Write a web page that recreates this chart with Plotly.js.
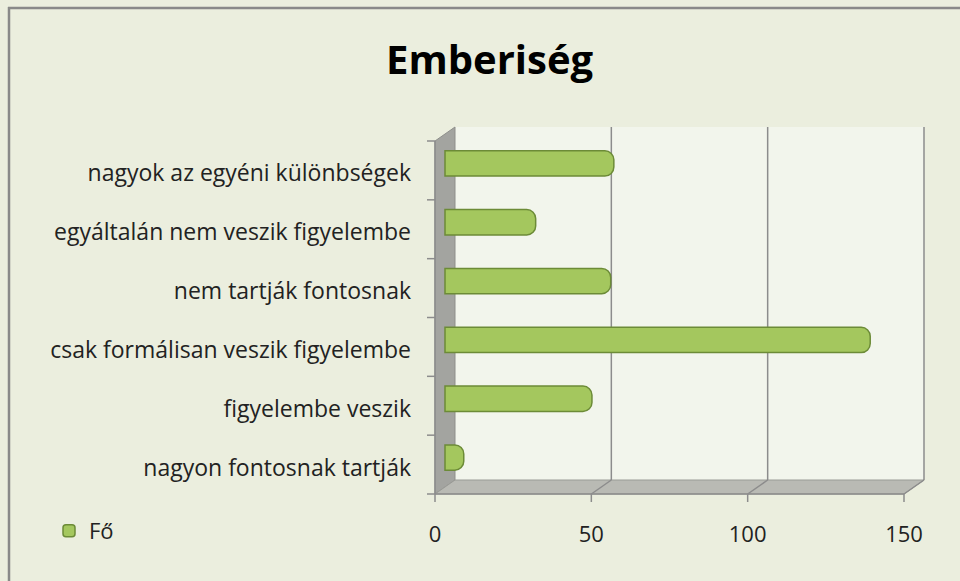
<!DOCTYPE html>
<html>
<head>
<meta charset="utf-8">
<script src="https://cdn.plot.ly/plotly-3.0.1.min.js"></script>
<style>html,body{margin:0;padding:0;background:#EBEEDE;}#chart{width:960px;height:581px;}</style>
</head>
<body>
<div id="chart"></div>
<script>
// ---- data (bottom category first) ----
const categories = [
  "nagyon fontosnak tartják",
  "figyelembe veszik",
  "csak formálisan veszik figyelembe",
  "nem tartják fontosnak",
  "egyáltalán nem veszik figyelembe",
  "nagyok az egyéni különbségek"
];
const foValues = [6, 47, 136, 53, 29, 54];
const seriesName = "Fő";
const xTickVals = [0, 50, 100, 150];
const xTickText = ["0", "50", "100", "150"];
const chartTitle = "Emberiség";

// ---- geometry ----
const W = 960, Hh = 581;
const M = {l: 440, r: 41, t: 134, b: 94};
const PW = W - M.l - M.r, PH = Hh - M.t - M.b;
const X0 = -1.6, X1 = 151.6;
const DX = 10, DYp = 7; // 3D depth offset in px
const fx = (v, dpx) => (v - X0) / (X1 - X0) + dpx / PW;
const fy = (f, dpx) => f + dpx / PH;
const pxX = px => (px - M.l) / PW;          // page px -> paper x
const pxY = py => (M.t + PH - py) / PH;     // page px -> paper y
const xMax = xTickVals[xTickVals.length - 1];
const nCat = categories.length;

const gridCol = '#8C8C8C';
const shapes = [];
const L = (x0, y0, x1, y1, w, c) => shapes.push({type: 'line', xref: 'paper', yref: 'paper', x0, y0, x1, y1, line: {color: c || gridCol, width: w || 1.5}, layer: 'below'});
const P = (pts, fill, lc) => shapes.push({type: 'path', xref: 'paper', yref: 'paper',
  path: 'M' + pts.map(p => p[0] + ',' + p[1]).join('L') + 'Z', fillcolor: fill, line: {color: lc || gridCol, width: 1}, layer: 'below'});

// back wall
P([[fx(0, DX), fy(0, DYp)], [fx(xMax, DX), fy(0, DYp)], [fx(xMax, DX), fy(1, DYp)], [fx(0, DX), fy(1, DYp)]], '#F2F5EC', 'rgba(0,0,0,0)');
// left wall
P([[fx(0, -DX), fy(0, -DYp)], [fx(0, -DX), fy(1, -DYp)], [fx(0, DX), fy(1, DYp)], [fx(0, DX), fy(0, DYp)]], '#A3A4A0', '#8E8F8B');
// floor
P([[fx(0, -DX), fy(0, -DYp)], [fx(xMax, -DX), fy(0, -DYp)], [fx(xMax, DX), fy(0, DYp)], [fx(0, DX), fy(0, DYp)]], '#B9BAB4', '#9A9B96');
// gridlines on back wall + floor diagonals
xTickVals.forEach(v => {
  if (v > 0) {
    L(fx(v, DX), fy(0, DYp), fx(v, DX), fy(1, DYp), 1.5);
    L(fx(v, -DX), fy(0, -DYp), fx(v, DX), fy(0, DYp), 1.5);
  }
  L(fx(v, -DX), fy(0, -DYp), fx(v, -DX), fy(0, -DYp - 8), 1.5);
});
// front x axis line
L(fx(0, -DX), fy(0, -DYp), fx(xMax, -DX), fy(0, -DYp), 1.5);
// front left edge + category boundary ticks
L(fx(0, -DX), fy(0, -DYp), fx(0, -DX), fy(1, -DYp), 1.5);
for (let k = 0; k <= nCat; k++) {
  L(fx(0, -DX - 8), fy(k / nCat, -DYp), fx(0, -DX), fy(k / nCat, -DYp), 1.5);
}
// outer border (top & left)
L(pxX(9), pxY(7), pxX(9), pxY(590), 2.5, '#898989');
L(pxX(8), pxY(8), pxX(970), pxY(8), 2.5, '#898989');

const trace = {
  type: 'bar', orientation: 'h', name: seriesName,
  x: foValues, y: categories,
  marker: {color: '#A4C75E', line: {color: '#6C8B37', width: 1.5}, cornerradius: 9},
  showlegend: true, hoverinfo: 'x+y'
};

const layout = {
  width: W, height: Hh,
  margin: M,
  paper_bgcolor: '#EBEEDE',
  plot_bgcolor: 'rgba(0,0,0,0)',
  font: {family: 'Open Sans, sans-serif', color: '#222'},
  title: {text: '<b>' + chartTitle + '</b>', font: {family: 'Open Sans, sans-serif', size: 40, color: '#000'},
          x: 0.51, xref: 'container', xanchor: 'center', y: 1 - 60 / Hh, yref: 'container', yanchor: 'middle'},
  bargap: 0.57,
  xaxis: {range: [X0, X1], tickvals: xTickVals, ticktext: xTickText, showgrid: false, zeroline: false, showline: false,
          ticks: '', tickfont: {size: 22, color: '#222'}, ticklabelshift: -DX, ticklabelstandoff: 32, fixedrange: true},
  yaxis: {type: 'category', categoryorder: 'array', categoryarray: categories, showgrid: false, zeroline: false, showline: false,
          ticks: '', tickfont: {size: 23, color: '#222'}, ticklabelshift: 10, ticklabelstandoff: 28, fixedrange: true},
  showlegend: true,
  legend: {x: pxX(49), xanchor: 'left', y: pxY(531), yanchor: 'middle', bgcolor: 'rgba(0,0,0,0)',
           font: {size: 22, color: '#222'}, itemwidth: 30},
  shapes: shapes
};

Plotly.newPlot('chart', [trace], layout, {displayModeBar: false, staticPlot: true});
</script>
</body>
</html>
